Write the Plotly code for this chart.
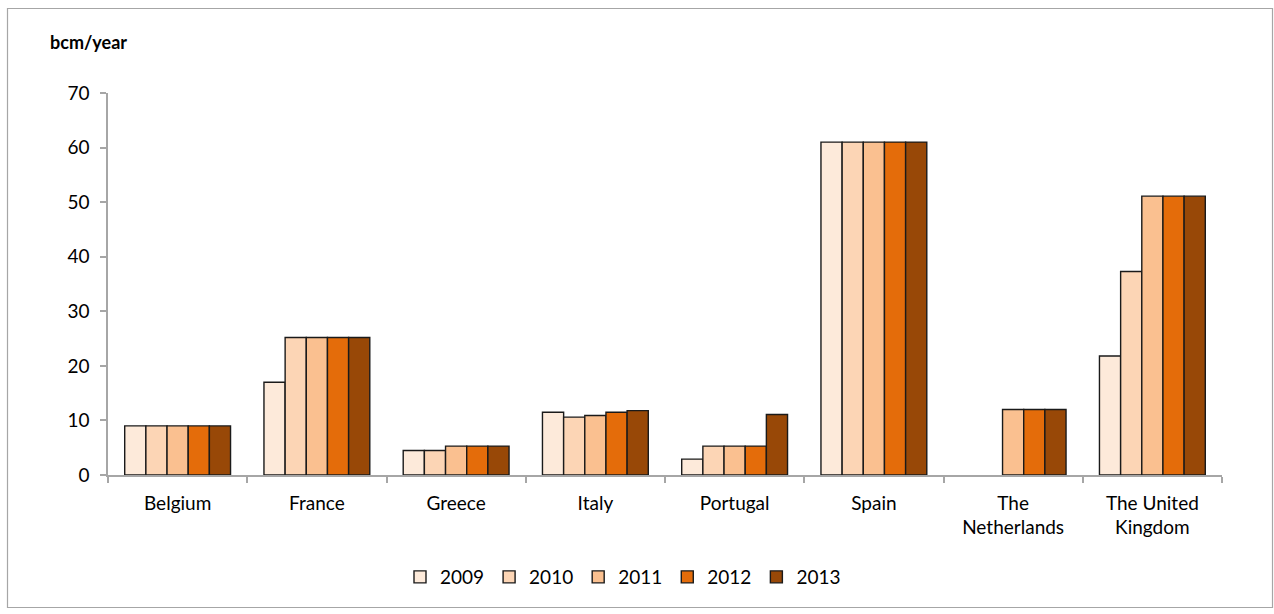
import plotly.graph_objects as go

categories = ["Belgium", "France", "Greece", "Italy", "Portugal", "Spain",
              "The<br>Netherlands", "The United<br>Kingdom"]
years = ["2009", "2010", "2011", "2012", "2013"]
v2009 = [9.0, 17.0, 4.5, 11.5, 2.9, 61.0, None, 21.8]
v2010 = [9.0, 25.2, 4.5, 10.6, 5.3, 61.0, None, 37.3]
v2011 = [9.0, 25.2, 5.3, 10.9, 5.3, 61.0, 12.0, 51.1]
v2012 = [9.0, 25.2, 5.3, 11.5, 5.3, 61.0, 12.0, 51.1]
v2013 = [9.0, 25.2, 5.3, 11.8, 11.1, 61.0, 12.0, 51.1]
series = [v2009, v2010, v2011, v2012, v2013]
colors = ["#FDEADA", "#FCD5B5", "#FAC090", "#E46C0A", "#984807"]

W, H = 1274, 614
ml, mr, mt, mb = 108, 52, 93, 139
FONT = "Lato"
FS = 19

fig = go.Figure()
for y, vals, c in zip(years, series, colors):
    fig.add_trace(go.Bar(name=y, x=categories, y=vals, marker_color=c,
                         marker_line_color="#1a1a1a", marker_line_width=1.4))

pw, ph = W - ml - mr, H - mt - mb
def px2paperx(p):
    return (p - ml) / pw
def px2papery(p):
    return 1 - (p - mt) / ph

fig.update_layout(
    width=W, height=H,
    margin=dict(l=ml, r=mr, t=mt, b=mb, pad=0),
    paper_bgcolor="white", plot_bgcolor="white",
    barmode="group", bargap=0.24, bargroupgap=0,
    font=dict(family=FONT, size=FS, color="#000000"),
    showlegend=True,
    legend=dict(orientation="h", x=px2paperx(400), xanchor="left",
                y=px2papery(577), yanchor="middle",
                font=dict(size=FS), itemwidth=30, tracegroupgap=0,
                bgcolor="rgba(0,0,0,0)"),
    xaxis=dict(showline=True, linecolor="#A6A6A6", linewidth=1.5,
               ticks="outside", tickson="boundaries", ticklen=6,
               tickcolor="#A6A6A6", tickwidth=1.5, showgrid=False,
               tickfont=dict(size=FS), ticklabelstandoff=10, fixedrange=True),
    yaxis=dict(range=[0, 70], dtick=10, showline=True, linecolor="#A6A6A6",
               linewidth=1.5, ticks="outside", ticklen=6, tickcolor="#A6A6A6",
               tickwidth=1.5, showgrid=False, zeroline=False,
               tickfont=dict(size=FS), ticklabelstandoff=7),
    annotations=[dict(text="<b>bcm/year</b>", xref="paper", yref="paper",
                      x=px2paperx(48), y=px2papery(42), xanchor="left",
                      yanchor="middle", showarrow=False,
                      font=dict(size=18, family=FONT))],
    shapes=[dict(type="rect", xref="paper", yref="paper",
                 x0=px2paperx(7.5), x1=px2paperx(1272.5),
                 y0=px2papery(8.5), y1=px2papery(607.5),
                 line=dict(color="#A6A6A6", width=1.2), layer="below")],
)

fig.write_html("out.html")
